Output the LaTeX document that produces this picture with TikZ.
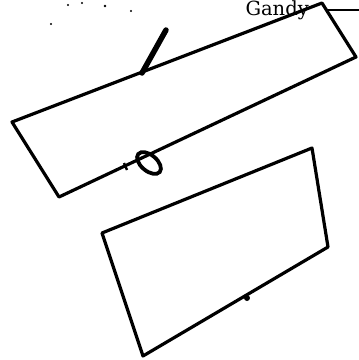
\documentclass[tikz,border=0pt]{standalone}
\usepackage{fontspec}
\newfontfamily\labelfont{DejaVu Serif}
\begin{document}
\begin{tikzpicture}[x=1pt,y=-1pt,
  edge/.style={line width=3.2pt,line join=round,line cap=round},
  penstroke/.style={line width=5.5pt,line cap=round},
  speck/.style={fill=black}]
\useasboundingbox (0,0) rectangle (359,360);
% upper rectangle
\coordinate (a1) at (322,3);
\coordinate (a2) at (356,57);
\coordinate (a3) at (59,197);
\coordinate (a4) at (12,122);
\draw[edge] (a1) -- (a2) -- (a3) -- (a4) -- cycle;
% lower rectangle
\coordinate (b1) at (312,148);
\coordinate (b2) at (328,247);
\coordinate (b3) at (143,356);
\coordinate (b4) at (102,233);
\draw[edge] (b1) -- (b2) -- (b3) -- (b4) -- cycle;
% label
\node[anchor=base east,inner sep=0pt,font=\labelfont\fontsize{19.5}{20}\selectfont] (g) at (309,15) {Gandy};
\coordinate (gl) at (359,10);
\coordinate (gs) at (327,10);
\draw[line width=1.4pt] (gs) -- (gl);
% thick stroke
\coordinate (s1) at (142,73);
\coordinate (s2) at (166,30);
\draw[penstroke] (s1) -- (s2);
% loop
\draw[line width=3.8pt,rotate around={-40:(149,163)}] (149,163) ellipse (14pt and 8pt);
\draw[line width=2.4pt] (124,163) -- (127,170);
% tick on lower rectangle
\fill (247,298) circle (3pt);
% specks
\fill[speck] (68,5) circle (1.2pt);
\fill[speck] (82,3) circle (1.2pt);
\fill[speck] (105,6) circle (1.4pt);
\fill[speck] (131,11) circle (1.2pt);
\fill[speck] (51,24) circle (1.2pt);
\end{tikzpicture}
\end{document}
